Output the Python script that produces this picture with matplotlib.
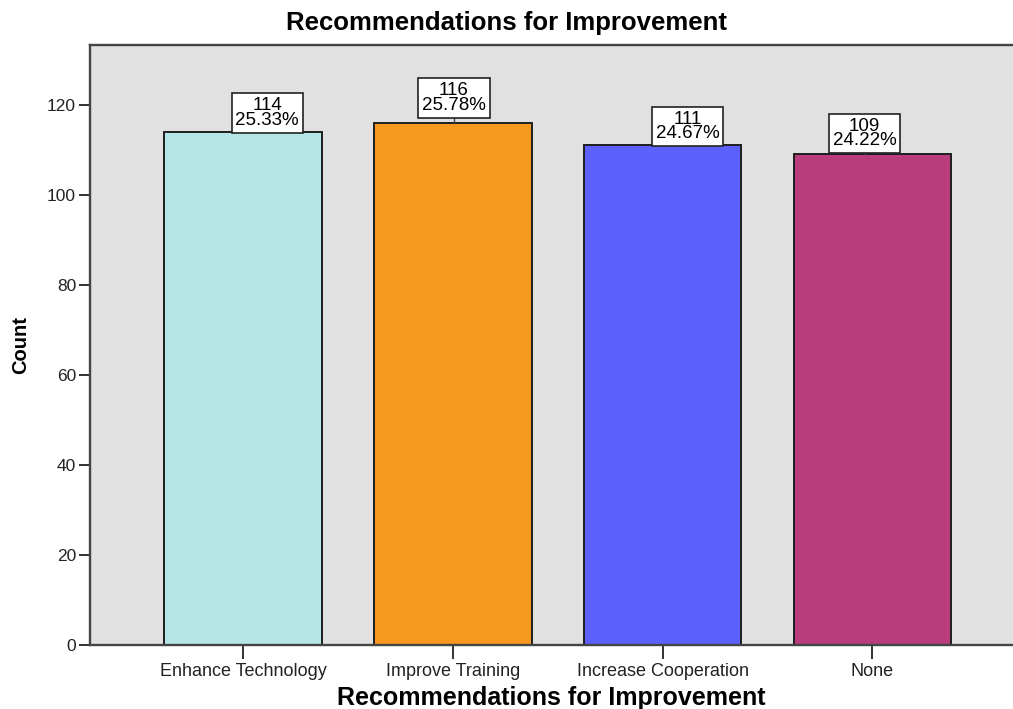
import matplotlib.pyplot as plt
import matplotlib.transforms as mtransforms
import numpy as np

categories = ['Enhance Technology', 'Improve Training', 'Increase Cooperation', 'None']
counts = [114, 116, 111, 109]
bar_colors = ['#b4e6e6', '#f7981f', '#5c60fd', '#b93d7c']
yticks = [0, 20, 40, 60, 80, 100, 120]

# label box nudges (pixels): sideways shift and gap above the bar
label_dx = [24, 1, 25, -8]
label_gap = [0, 6, 0, 2]

plt.rcParams['font.family'] = ['Liberation Sans', 'DejaVu Sans']

fig = plt.figure(figsize=(10.13, 7.09), dpi=100)
ax = fig.add_axes([0.0888, 0.0903, 0.9112, 0.8462])
ax.set_facecolor('#e1e1e1')

x = np.arange(len(categories))
ax.bar(x, counts, width=0.75, color=bar_colors, edgecolor='#1e1e1e', linewidth=1.4, zorder=2)

total = sum(counts)
for xi, c, dx, gap in zip(x, counts, label_dx, label_gap):
    pct = 100.0 * c / total
    if gap > 0:
        tr = mtransforms.offset_copy(ax.transData, fig=fig, x=dx, y=0, units='dots')
        ax.plot([xi, xi], [c, c + gap / 4.5], color='#444444', lw=1, zorder=3, transform=tr)
    ax.annotate(f'{c}\n{pct:.2f}%', xy=(xi, c), xytext=(dx, gap + 3),
                textcoords='offset pixels', ha='center', va='bottom', fontsize=13.5,
                linespacing=0.82, zorder=4,
                bbox=dict(boxstyle='square,pad=0.2', fc='white', ec='#222222', lw=1.2))

ax.set_xlim(-0.73, 3.67)
ax.set_ylim(0, 133.3)
ax.set_yticks(yticks)
ax.set_xticks(x)
ax.set_xticklabels(categories, fontsize=13)
ax.tick_params(axis='y', labelsize=12.5, length=8, width=1.4, color='#333333', labelcolor='#222222', pad=2)
ax.tick_params(axis='x', length=10, width=1.4, color='#333333', labelcolor='#222222', pad=3)

for side in ['left', 'bottom', 'top']:
    ax.spines[side].set_color('#444444')
    ax.spines[side].set_linewidth(1.7)
ax.spines['right'].set_visible(False)

ax.set_xlabel('Recommendations for Improvement', fontsize=18, fontweight='bold', labelpad=4)
ax.set_ylabel('Count', fontsize=14.5, fontweight='bold', labelpad=12)
fig.text(0.5, 0.968, 'Recommendations for Improvement', fontsize=18.5, fontweight='bold',
         ha='center', va='center')

fig.savefig('out.png', dpi=100)
